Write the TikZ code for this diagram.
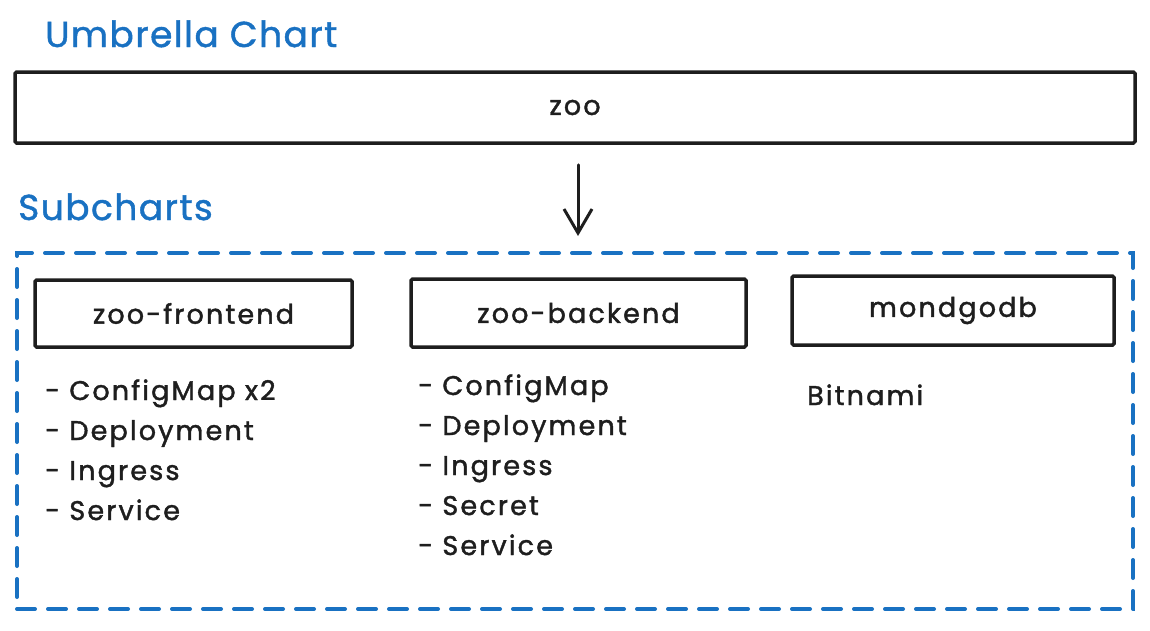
\documentclass[tikz,border=0pt]{standalone}
\usepackage{fontspec}
\setmainfont{Poppins}
\usetikzlibrary{arrows.meta}
\definecolor{ink}{HTML}{1E1E1E}
\definecolor{blu}{HTML}{1971C2}
\newfontfamily\handfont[LetterSpace=8,FakeBold=1.5]{Poppins}
\newfontfamily\headfont[LetterSpace=4,FakeBold=1.2]{Poppins}
\begin{document}
\begin{tikzpicture}[x=1pt,y=-1pt,
  box/.style={draw=ink, line width=3.5pt, fill=white, inner sep=0pt, rounded corners=1.5pt,
              font=\handfont\fontsize{27}{30}\selectfont, text=ink},
  item/.style={anchor=base west, font=\handfont\fontsize{27}{30}\selectfont, text=ink, inner sep=0pt},
  heading/.style={anchor=base west, font=\headfont\fontsize{36}{40}\selectfont, text=blu, inner sep=0pt},
  group/.style={draw=blu, line width=4pt, dash pattern=on 18pt off 13pt, line cap=round, inner sep=0pt},
  flow/.style={draw=ink, line width=3pt, line cap=round, -{Straight Barb[length=24pt,width=28pt,line width=3pt]}},
]
\path[use as bounding box, fill=white] (0,0) rectangle (1150,630);

\node[heading] (umb) at (45,47) {Umbrella Chart};
\node[box, minimum width=1120pt, minimum height=71pt] (zoo) at (575,107.5) {zoo};

\node[heading] (subh) at (18,220) {Subcharts};
\node[group, minimum width=1116pt, minimum height=356pt] (sub) at (575,431) {};

\draw[flow] ([shift={(3,20)}]zoo.south) -- ([shift={(3,-15)}]sub.north);

\node[box, minimum width=317pt, minimum height=67pt] (fe) at (193.5,313.5) {zoo-frontend};
\node[box, minimum width=335pt, minimum height=68pt] (be) at (578.5,313) {zoo-backend};
\node[box, minimum width=322pt, minimum height=69pt] (mg) at (953,310.5) {mondgodb};

\node[item] (fe1) at (45,400) {- ConfigMap x2};
\node[item] (fe2) at (45,440) {- Deployment};
\node[item] (fe3) at (45,480) {- Ingress};
\node[item] (fe4) at (45,520) {- Service};

\node[item] (be1) at (418,395) {- ConfigMap};
\node[item] (be2) at (418,435) {- Deployment};
\node[item] (be3) at (418,475) {- Ingress};
\node[item] (be4) at (418,515) {- Secret};
\node[item] (be5) at (418,555) {- Service};

\node[item] (bit) at (807,405) {Bitnami};
\end{tikzpicture}
\end{document}
